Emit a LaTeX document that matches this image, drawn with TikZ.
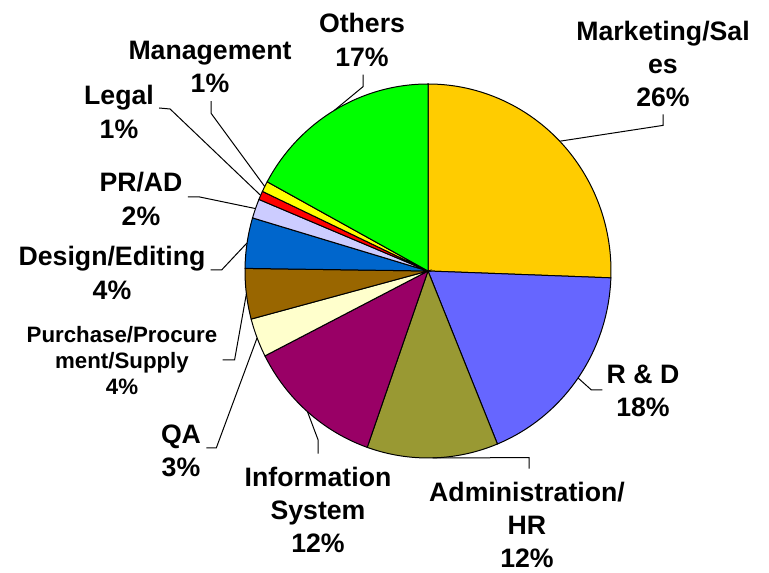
\documentclass[tikz,border=0pt]{standalone}
\usepackage{fontspec}
\setmainfont{Liberation Sans}
\usetikzlibrary{positioning}
\definecolor{mktg}{HTML}{FFCC00}
\definecolor{rnd}{HTML}{6666FF}
\definecolor{adm}{HTML}{999933}
\definecolor{inf}{HTML}{990066}
\definecolor{qa}{HTML}{FFFFCC}
\definecolor{pur}{HTML}{996600}
\definecolor{des}{HTML}{0066CC}
\definecolor{pr}{HTML}{CCCCFF}
\definecolor{leg}{HTML}{FF0000}
\definecolor{mgt}{HTML}{FFFF00}
\definecolor{oth}{HTML}{00FF00}
\newcommand{\lblfont}{\fontsize{20}{25}\selectfont\bfseries}
\newcommand{\lblsmall}{\fontsize{16.7}{19.5}\selectfont\bfseries}

\begin{document}
\begin{tikzpicture}[x=0.75pt,y=0.75pt,yscale=-1,xscale=1,
  slice/.style={draw=black, line width=0.75pt},
  lbl/.style={font=\lblfont, align=center, inner sep=0pt},
  leader/.style={draw=black, line width=0.75pt}]
\useasboundingbox (0,0) rectangle (769,573);

\coordinate (c) at (428,271);
%Pie slices, clockwise from the top
\foreach \a/\b/\n in {-90/2.1/mktg, 2.1/67.7/rnd, 67.7/109.4/adm, 109.4/153/inf, 153/165.1/qa, 165.1/180.8/pur, 180.8/196.5/des, 196.5/202.5/pr, 202.5/205.2/leg, 205.2/208.5/mgt, 208.5/270/oth}{
  \draw[slice, fill=\n] (c) -- ++(\a:183 and 187) arc[start angle=\a, end angle=\b, x radius=183, y radius=187] -- cycle;
  \path (c) ++({(\a+\b)/2}:183 and 187) coordinate (e\n);
}

% Text Nodes
\node[lbl] (mkt) at (663,64) {Marketing/Sal\\es\\26\%};
\node[lbl] (others) at (362,40) {Others\\17\%};
\node[lbl] (manage) at (210,67) {Management\\1\%};
\node[lbl] (legal) at (119,112) {Legal\\1\%};
\node[lbl] (prad) at (141,199) {PR/AD\\2\%};
\node[lbl] (design) at (112,273) {Design/Editing\\4\%};
\node[lbl, font=\lblsmall] (purch) at (122,361) {Purchase/Procure\\ment/Supply\\4\%};
\node[lbl] (qalbl) at (181,451) {QA\\3\%};
\node[lbl] (info) at (318,510) {Information\\System\\12\%};
\node[lbl] (admin) at (527,525) {Administration/\\HR\\12\%};
\node[lbl] (rndlbl) at (643,391) {R \& D\\18\%};

% Leader lines
\draw[leader] (mkt.south) ++(0,7) -- ++(0,11) -- (emktg);
\draw[leader] (others.south) ++(1,8) -- ++(0,12) -- (eoth);
\draw[leader] (manage.south) ++(1,8) -- ++(0,12) -- (emgt);
\draw[leader] (legal.east) ++(5,-4) -- ++(11,1) -- (eleg);
\draw[leader] (prad.east) ++(5,-2) -- ++(12,0) -- (epr);
\draw[leader] (design.east) ++(5,-3) -- ++(11,0) -- (edes);
\draw[leader] (purch.east) ++(5,-1) -- ++(12,0) -- (epur);
\draw[leader] (qalbl.east) ++(5,-3) -- ++(10,0) -- (eqa);
\draw[leader] (info.north) ++(0,-13) -- ++(0,-14) -- (einf);
\draw[leader] (admin.north) ++(2,-13) -- ++(0,-11) -- (eadm);
\draw[leader] (rndlbl.west) ++(-4,-1) -- ++(-11,0) -- (ernd);

\end{tikzpicture}
\end{document}
